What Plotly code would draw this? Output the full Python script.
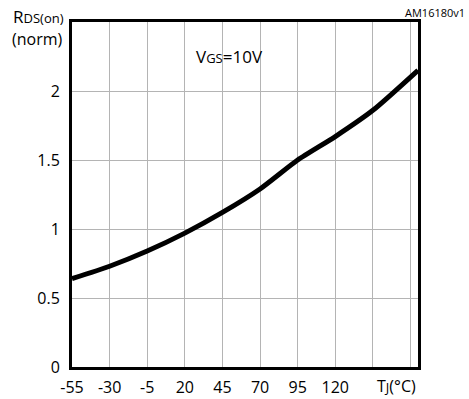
import plotly.graph_objects as go

temps = [-55, -30, -5, 20, 45, 70, 95, 120, 145, 175]
rds_norm = [0.64, 0.73, 0.84, 0.97, 1.12, 1.29, 1.50, 1.67, 1.86, 2.15]

x_grid = [-55, -30, -5, 20, 45, 70, 95, 120, 145, 170]
x_labels = ["-55", "-30", "-5", "20", "45", "70", "95", "120", "", ""]
y_ticks = [0, 0.5, 1, 1.5, 2, 2.5]
y_labels = ["0", "0.5", "1", "1.5", "2", ""]

FONT = "Open Sans"

fig = go.Figure()
fig.add_trace(go.Scatter(x=temps, y=rds_norm, mode="lines",
                         line=dict(color="black", width=5, shape="spline", smoothing=0.6),
                         hoverinfo="skip"))

fig.update_layout(
    width=469, height=399,
    margin=dict(l=72, r=51, t=22, b=32),
    paper_bgcolor="white", plot_bgcolor="white",
    showlegend=False,
    font=dict(family=FONT, color="black", size=16),
    xaxis=dict(range=[-55, 175], tickmode="array", tickvals=x_grid, ticktext=x_labels,
               showgrid=True, gridcolor="#b4b4b4", gridwidth=1, automargin=False,
               showline=True, linecolor="black", linewidth=3, mirror=True,
               ticks="", zeroline=False, ticklabelstandoff=4,
               tickfont=dict(family=FONT, size=16)),
    yaxis=dict(range=[0, 2.5], tickmode="array", tickvals=y_ticks, ticktext=y_labels,
               showgrid=True, gridcolor="#b4b4b4", gridwidth=1, automargin=False,
               showline=True, linecolor="black", linewidth=3, mirror=True,
               ticks="", zeroline=False, ticklabelstandoff=6,
               tickfont=dict(family=FONT, size=16)),
)

def px_x(p):
    return (p - 72) / 346.0

def px_y(p):
    return (367 - p) / 345.0

fig.add_annotation(xref="paper", yref="paper", x=px_x(418), y=px_y(386),
                   text="T<span style='font-size:13px'>J</span>(°C)", showarrow=False,
                   xanchor="right", yanchor="middle", font=dict(size=16, family=FONT))
fig.add_annotation(xref="paper", yref="paper", x=px_x(66), y=px_y(17),
                   text="R<span style='font-size:13px'>DS(on)</span>", showarrow=False,
                   xanchor="right", yanchor="middle", font=dict(size=17, family=FONT))
fig.add_annotation(xref="paper", yref="paper", x=px_x(65), y=px_y(39),
                   text="(norm)", showarrow=False,
                   xanchor="right", yanchor="middle", font=dict(size=16, family=FONT))
fig.add_annotation(xref="x", yref="y", x=50, y=2.25,
                   text="V<span style='font-size:13px'>GS</span>=10V", showarrow=False,
                   xanchor="center", yanchor="middle", font=dict(size=17, family=FONT))
fig.add_annotation(xref="paper", yref="paper", x=px_x(467), y=px_y(12),
                   text="AM16180v1", showarrow=False,
                   xanchor="right", yanchor="middle", font=dict(size=11, family=FONT))

fig.write_html("out.html", config={"displayModeBar": False},
               post_script="document.body.style.margin='0';document.body.style.overflow='hidden';")
